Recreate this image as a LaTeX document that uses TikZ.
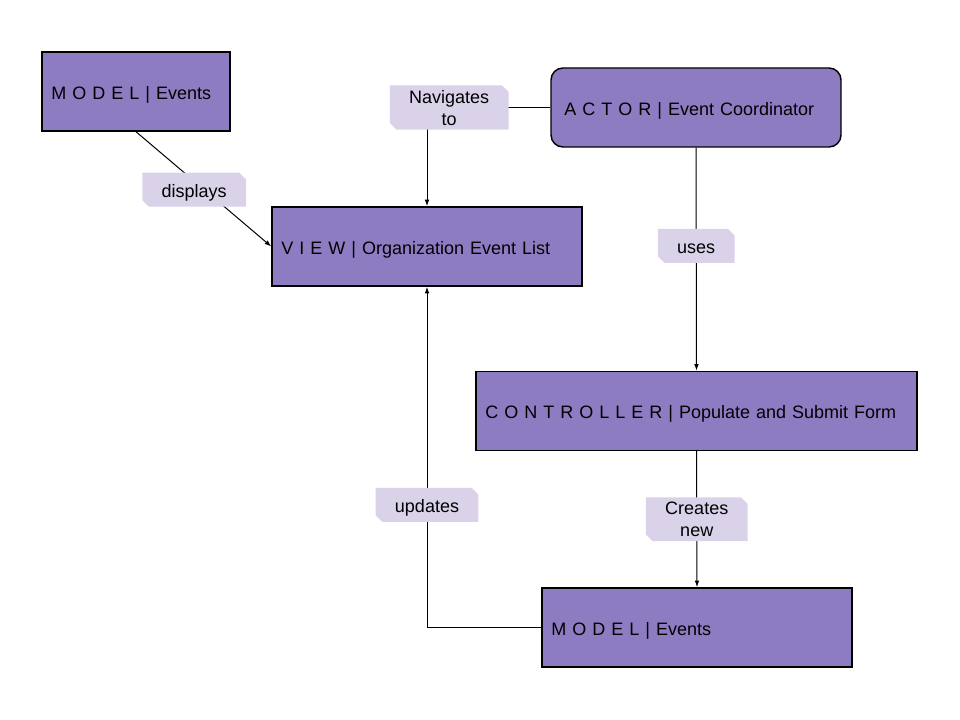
\documentclass[tikz,border=0pt]{standalone}
\usepackage{fontspec}
\setmainfont{Liberation Sans}
\usetikzlibrary{arrows.meta,shapes.misc}
\definecolor{boxpurple}{HTML}{8E7CC3}
\definecolor{tagpurple}{HTML}{D9D2E9}
\begin{document}
\begin{tikzpicture}[
		x=0.75pt, y=-0.75pt,
		font=\fontsize{13.5}{16.5}\selectfont,
		box/.style={draw=black, line width=1.1pt, fill=boxpurple, align=left,
				inner xsep=7pt, minimum height=59.25pt, text height=11.8pt, text depth=0pt},
		tag/.style={chamfered rectangle, chamfered rectangle corners={north east, south west},
				chamfered rectangle xsep=2.5pt, chamfered rectangle ysep=2.5pt,
				fill=tagpurple, align=center, inner xsep=12pt, inner ysep=1pt,
				minimum height=25.5pt, text depth=0pt},
		oneline/.style={text height=11.8pt},
		link/.style={draw, line width=0.75pt, -{Latex[length=5pt, width=3.5pt]}}
	]
	\useasboundingbox (0,0) rectangle (960,720);
	% boxes
	\node[box, text width=127pt] (modeltop) at (136,91.5) {M O D E L | Events};
	\node[box, text width=218.5pt] (view) at (427,246.5) {V I E W | Organization Event List};
	\node[box, rounded corners=9pt, inner xsep=10pt, text width=197.5pt] (actor) at (696,107.5) {A C T O R | Event Coordinator};
	\node[box, text width=316.75pt] (controller) at (696.5,411) {C O N T R O L L E R | Populate and Submit Form};
	\node[box, text width=218.5pt] (modelbottom) at (697,627.5) {M O D E L | Events};
	% connectors
	\draw[link] (modeltop.south) -- (view.west)
		node[tag, oneline, pos=0.43, yshift=-6.5pt] (displays) {displays};
	\draw[link] (actor.west) -| (view.north)
		node[tag, pos=0.41] (navigates) {Navigates\\to};
	\draw[link] (actor.south) -- (controller.north)
		node[tag, oneline, pos=0.44] (uses) {uses};
	\draw[link] (controller.south) -- (modelbottom.north)
		node[tag, pos=0.5] (creates) {Creates\\new};
	\draw[link] (modelbottom.west) -| (view.south)
		node[tag, oneline, pos=0.68] (updates) {updates};
\end{tikzpicture}
\end{document}
